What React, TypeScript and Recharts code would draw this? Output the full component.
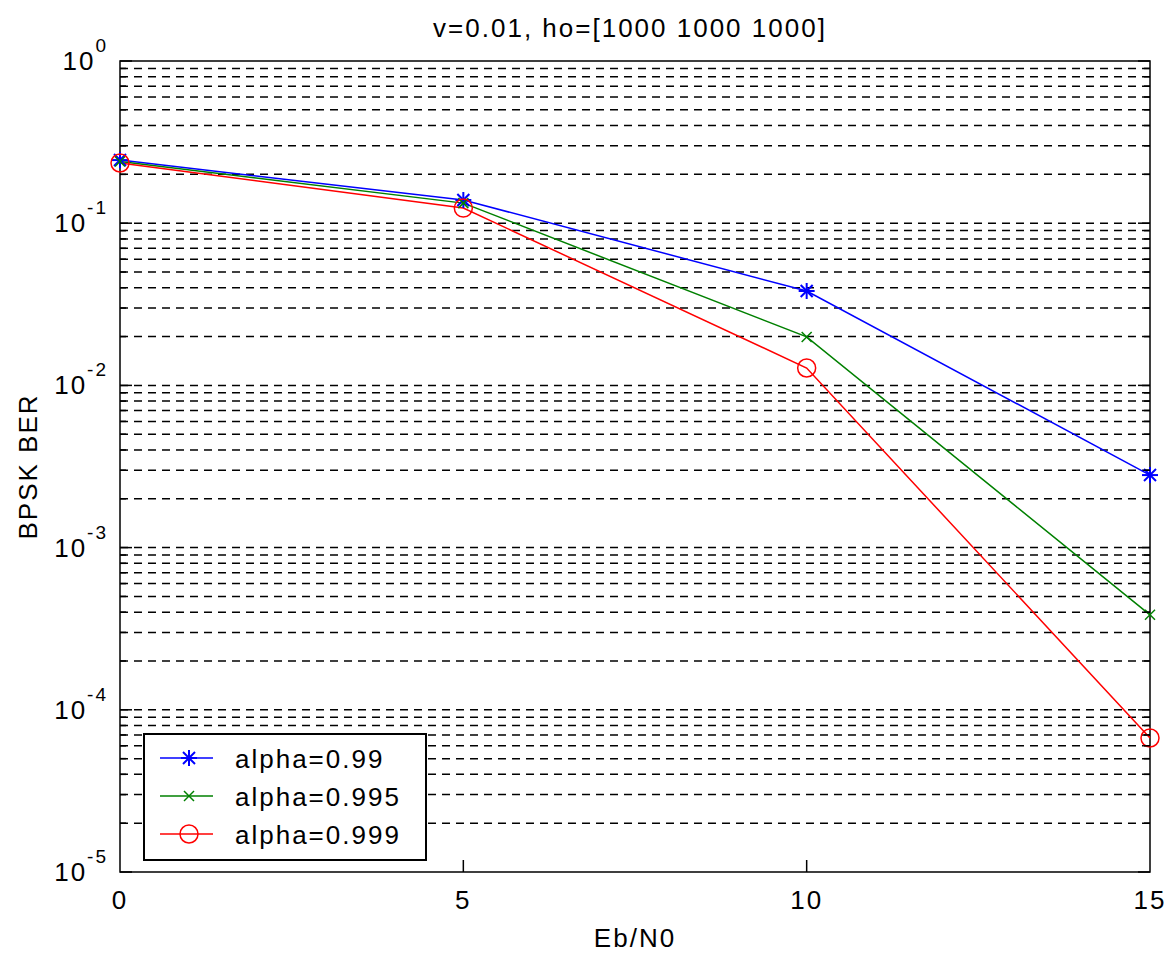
import { LineChart, Line, XAxis, YAxis, ReferenceLine, ReferenceArea, Legend } from 'recharts'

const EBN0 = [0, 5, 10, 15]
const BER_099 = [0.245, 0.139, 0.0382, 0.0028]
const BER_0995 = [0.24, 0.133, 0.0199, 0.000385]
const BER_0999 = [0.235, 0.124, 0.0128, 0.000067]

const SERIES = [
  { key: 'a099', name: 'alpha=0.99', color: '#0000ff', marker: 'star', values: BER_099 },
  { key: 'a0995', name: 'alpha=0.995', color: '#008000', marker: 'x', values: BER_0995 },
  { key: 'a0999', name: 'alpha=0.999', color: '#ff0000', marker: 'circle', values: BER_0999 },
]

const X_TICKS = [0, 5, 10, 15]
const DECADES = [-5, -4, -3, -2, -1]
const MANTISSAS = [1, 2, 3, 4, 5, 6, 7, 8, 9]
const Y_TICKS = [...DECADES.flatMap((d) => MANTISSAS.map((m) => Number((m * Math.pow(10, d)).toPrecision(3)))), 1]
const GRID = Y_TICKS.filter((v) => v > 1e-5 && v < 1)

const TITLE = 'v=0.01, ho=[1000 1000 1000]'
const X_LABEL = 'Eb/N0'
const Y_LABEL = 'BPSK BER'

const FONT = '"Liberation Sans", Arial, sans-serif'
const txt = { fontFamily: FONT, fontSize: 26, letterSpacing: 2, fill: '#000' }

const rows = EBN0.map((x, i) => {
  const r: Record<string, number> = { x }
  SERIES.forEach((s) => { r[s.key] = s.values[i] })
  return r
})

const isDecade = (v: number) => Math.abs(Math.log10(v) - Math.round(Math.log10(v))) < 1e-9

function Marker({ kind, cx, cy, color }: { kind: string; cx: number; cy: number; color: string }) {
  if (kind === 'circle') return <circle cx={cx} cy={cy} r={9} fill="none" stroke={color} strokeWidth={1.5} />
  if (kind === 'x') {
    const d = 5
    return (
      <g stroke={color} strokeWidth={1.5}>
        <line x1={cx - d} y1={cy - d} x2={cx + d} y2={cy + d} />
        <line x1={cx - d} y1={cy + d} x2={cx + d} y2={cy - d} />
      </g>
    )
  }
  const d = 8, e = 6
  return (
    <g stroke={color} strokeWidth={2}>
      <line x1={cx} y1={cy - d} x2={cx} y2={cy + d} />
      <line x1={cx - d} y1={cy} x2={cx + d} y2={cy} />
      <line x1={cx - e} y1={cy - e} x2={cx + e} y2={cy + e} />
      <line x1={cx - e} y1={cy + e} x2={cx + e} y2={cy - e} />
    </g>
  )
}

function BottomTick({ x, y, payload }: any) {
  const v = payload.value
  return (
    <g>
      {v > 0 && v < 15 && <line x1={x} y1={y} x2={x} y2={y - 12} stroke="#000" strokeWidth={1.5} />}
      <text x={x} y={y + 37} textAnchor="middle" style={txt}>{v}</text>
    </g>
  )
}

function TopTick({ x, y, payload }: any) {
  const v = payload.value
  if (v <= 0 || v >= 15) return <g />
  return <line x1={x} y1={y} x2={x} y2={y + 12} stroke="#000" strokeWidth={1.5} />
}

function LeftTick({ x, y, payload }: any) {
  const v = payload.value
  const dec = isDecade(v)
  return (
    <g>
      <line x1={x} y1={y} x2={x + (dec ? 12 : 6)} y2={y} stroke="#000" strokeWidth={1.5} />
      {dec && (
        <text x={x - 12} y={y + 9} textAnchor="end" style={txt}>
          <tspan>10</tspan>
          <tspan dy={-18} style={{ fontSize: 19 }}>{Math.round(Math.log10(v))}</tspan>
        </text>
      )}
    </g>
  )
}

function RightTick({ x, y, payload }: any) {
  const dec = isDecade(payload.value)
  return <line x1={x} y1={y} x2={x - (dec ? 12 : 6)} y2={y} stroke="#000" strokeWidth={1.5} />
}

function LegendBox() {
  return (
    <svg width={284} height={128} style={{ display: 'block' }}>
      <rect x={1} y={1} width={282} height={126} fill="#fff" stroke="#000" strokeWidth={2} />
      {SERIES.map((s, i) => {
        const cy = 25 + i * 38
        return (
          <g key={s.key}>
            <line x1={17} y1={cy} x2={70} y2={cy} stroke={s.color} strokeWidth={1.5} />
            <Marker kind={s.marker} cx={46} cy={cy} color={s.color} />
            <text x={92} y={cy + 10} style={txt}>{s.name}</text>
          </g>
        )
      })}
    </svg>
  )
}

export default function App() {
  return (
    <div style={{ width: 1176, height: 956, background: '#fff', position: 'relative' }}>
      <style>{'body{margin:0;background:#fff}'}</style>
      <LineChart width={1176} height={956} data={rows} margin={{ top: 0, right: 0, bottom: 0, left: 0 }}>
        <XAxis
          dataKey="x" type="number" domain={[0, 15]} ticks={X_TICKS} interval={0} height={84}
          axisLine={false} tickLine={false} tickSize={0} tickMargin={0} tick={<BottomTick />}
          label={{
            content: ({ viewBox }: any) => (
              <text x={viewBox.x + viewBox.width / 2} y={viewBox.y + 75} textAnchor="middle" style={txt}>{X_LABEL}</text>
            ),
          }}
        />
        <XAxis
          xAxisId="t" orientation="top" type="number" domain={[0, 15]} ticks={X_TICKS} interval={0} height={61}
          axisLine={false} tickLine={false} tickSize={0} tickMargin={0} tick={<TopTick />}
          label={{
            content: ({ viewBox }: any) => (
              <text x={viewBox.x + viewBox.width / 2 - 5} y={37} textAnchor="middle" style={txt}>{TITLE}</text>
            ),
          }}
        />
        <YAxis
          yAxisId="l" scale="log" type="number" domain={[1e-5, 1]} ticks={Y_TICKS} interval={0} width={120}
          allowDataOverflow axisLine={false} tickLine={false} tickSize={0} tickMargin={0} tick={<LeftTick />}
          label={{
            content: ({ viewBox }: any) => {
              const cx = 28
              const cy = viewBox.y + viewBox.height / 2
              return (
                <text x={cx} y={cy} transform={`rotate(-90 ${cx} ${cy})`} textAnchor="middle" dominantBaseline="central" style={txt}>
                  {Y_LABEL}
                </text>
              )
            },
          }}
        />
        <YAxis
          yAxisId="r" orientation="right" scale="log" type="number" domain={[1e-5, 1]} ticks={Y_TICKS} interval={0} width={26}
          allowDataOverflow axisLine={false} tickLine={false} tickSize={0} tickMargin={0} tick={<RightTick />}
        />
        {GRID.map((v) => (
          <ReferenceLine key={v} y={v} yAxisId="l" stroke="#000" strokeWidth={1.5} strokeDasharray="8 6" />
        ))}
        {SERIES.map((s) => (
          <Line
            key={s.key} yAxisId="l" dataKey={s.key} name={s.name} type="linear"
            stroke={s.color} strokeWidth={1.5} isAnimationActive={false}
            dot={(p: any) => <Marker key={`${s.key}-${p.index}`} kind={s.marker} cx={p.cx} cy={p.cy} color={s.color} />}
          />
        ))}
        <ReferenceArea x1={0} x2={15} y1={1e-5} y2={1} yAxisId="l" fill="none" stroke="#000" strokeWidth={1.5} />
        <Legend
          layout="horizontal" verticalAlign="middle" align="center"
          wrapperStyle={{ left: 143, top: 733, width: 284, height: 128 }}
          content={() => <LegendBox />}
        />
      </LineChart>
    </div>
  )
}
